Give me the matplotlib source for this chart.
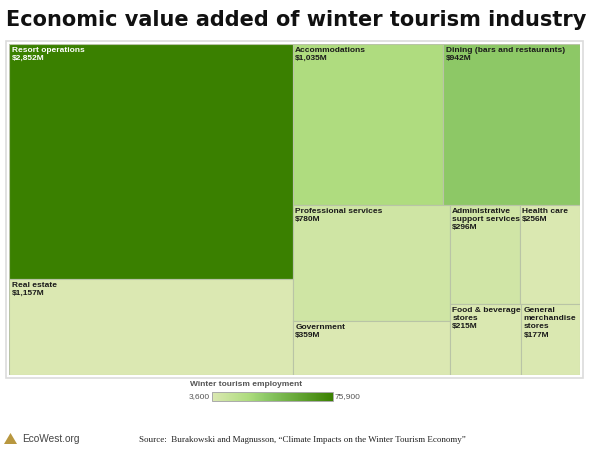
import matplotlib
matplotlib.use("Agg")
import matplotlib.pyplot as plt
from matplotlib.patches import Rectangle, Polygon
from matplotlib.colors import LinearSegmentedColormap, Normalize
from matplotlib.colorbar import ColorbarBase

# data
industries = ["Resort operations", "Real estate", "Accommodations",
              "Dining (bars and restaurants)", "Professional services",
              "Government", "Administrative support services", "Health care",
              "Food & beverage stores", "General merchandise stores"]
display_names = ["Resort operations", "Real estate", "Accommodations",
                 "Dining (bars and restaurants)", "Professional services",
                 "Government", "Administrative\nsupport services", "Health care",
                 "Food & beverage\nstores", "General\nmerchandise\nstores"]
value_added = [2852, 1157, 1035, 942, 780, 359, 296, 256, 215, 177]  # $M
employment = [75900, 3600, 25000, 36000, 9400, 3800, 8700, 4300, 4400, 4200]
emp_min, emp_max = 3600, 75900

W, H = 571.0, 331.0  # treemap box size (pixel-like units)

cmap = LinearSegmentedColormap.from_list(
    "eco", [(0.0, "#dbe8b2"), (0.3, "#aedc7e"), (0.45, "#8cc866"), (1.0, "#3a8000")])
norm = Normalize(emp_min, emp_max)


def layout(idx, x, y, w, h, out):
    # ordered binary split: balanced sums, cut along the longer side
    if len(idx) == 1:
        out[idx[0]] = (x, y, w, h)
        return
    vals = [value_added[i] for i in idx]
    total = sum(vals)
    best, acc, cut = None, 0, 1
    for k in range(1, len(vals)):
        acc += vals[k - 1]
        d = abs(acc - total / 2)
        if best is None or d < best:
            best, cut = d, k
    frac = sum(vals[:cut]) / total
    if w >= h:
        layout(idx[:cut], x, y, w * frac, h, out)
        layout(idx[cut:], x + w * frac, y, w * (1 - frac), h, out)
    else:
        layout(idx[:cut], x, y, w, h * frac, out)
        layout(idx[cut:], x, y + h * frac, w, h * (1 - frac), out)


rects = {}
layout(list(range(len(value_added))), 0, 0, W, H, rects)

fig = plt.figure(figsize=(6, 4.5), dpi=100)
fig.patch.set_facecolor("white")

# outer frame
fig.patches.append(Rectangle((6 / 600, 1 - 378 / 450), 577 / 600, 337 / 450,
                             transform=fig.transFigure, facecolor="none",
                             edgecolor="#dcdcdc", lw=1.2))

ax = fig.add_axes([9 / 600, 1 - 375 / 450, W / 600, H / 450])
ax.set_xlim(0, W)
ax.set_ylim(H, 0)
ax.axis("off")

for i, name in enumerate(display_names):
    x, y, w, h = rects[i]
    ax.add_patch(Rectangle((x, y), w, h, facecolor=cmap(norm(employment[i])),
                           edgecolor="#b9c4a6", lw=0.8))
    col = "white" if employment[i] > 50000 else "#1a1a1a"
    ax.text(x + 2.5, y + 2.5, f"{name}\n${value_added[i]:,}M", ha="left", va="top",
            fontsize=6.0, fontweight="bold", color=col, family="Liberation Sans",
            linespacing=1.25)

fig.text(6 / 600, 1 - 20 / 450, "Economic value added of winter tourism industry",
         fontsize=15.0, fontweight="bold", ha="left", va="center", color="#111111")

# legend
fig.text(190 / 600, 1 - 384 / 450, "Winter tourism employment", fontsize=6,
         fontweight="bold", color="#555555", ha="left", va="center",
         family="Liberation Sans")
cax = fig.add_axes([212 / 600, 1 - 401 / 450, 121 / 600, 9 / 450])
cb = ColorbarBase(cax, cmap=cmap, norm=norm, orientation="horizontal")
cb.set_ticks([])
cb.outline.set_edgecolor("#aaaaaa")
cb.outline.set_linewidth(0.7)
fig.text(210 / 600, 1 - 396.5 / 450, f"{emp_min:,}", fontsize=6, color="#555555",
         ha="right", va="center", family="Liberation Sans")
fig.text(335 / 600, 1 - 396.5 / 450, f"{emp_max:,}", fontsize=6, color="#555555",
         ha="left", va="center", family="Liberation Sans")

# footer
fig.patches.append(Polygon([(4 / 600, 1 - 444 / 450), (10.5 / 600, 1 - 433 / 450),
                            (17 / 600, 1 - 444 / 450)], closed=True,
                           transform=fig.transFigure, facecolor="#b8973f",
                           edgecolor="none"))
fig.text(22 / 600, 1 - 439 / 450, "EcoWest.org", fontsize=7.3, color="#444444",
         ha="left", va="center", family="Liberation Sans")
fig.text(139 / 600, 1 - 440 / 450,
         "Source:  Burakowski and Magnusson, \u201cClimate Impacts on the Winter Tourism Economy\u201d",
         fontsize=6.5, color="#222222", ha="left", va="center", family="Liberation Serif")

fig.savefig("out.png", dpi=100)
